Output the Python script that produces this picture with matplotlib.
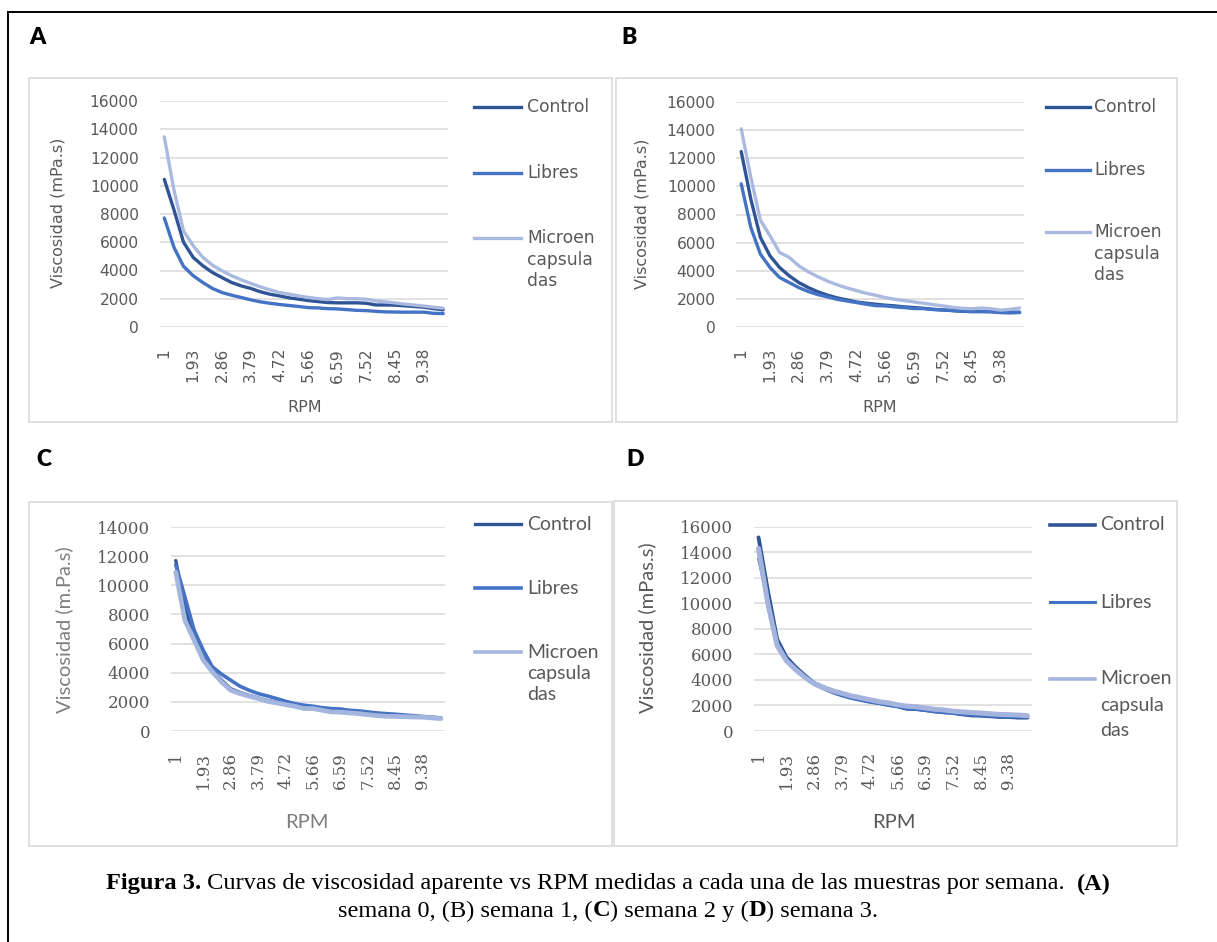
import matplotlib
matplotlib.use("Agg")
import matplotlib.pyplot as plt
from matplotlib.lines import Line2D
from matplotlib.patches import Rectangle

# ---------------- data ----------------
rpm_labels = ["1", "1.31", "1.62", "1.93", "2.24", "2.55", "2.86", "3.17", "3.48", "3.79",
              "4.1", "4.41", "4.72", "5.03", "5.34", "5.66", "5.97", "6.28", "6.59", "6.9",
              "7.21", "7.52", "7.83", "8.14", "8.45", "8.76", "9.07", "9.38", "9.69", "10"]
series_names = ["Control", "Libres", "Microen\ncapsula\ndas"]

A_control = [10450, 8300, 6000, 4930, 4340, 3860, 3500, 3150, 2910, 2730, 2490, 2320, 2200, 2060, 1970,
             1870, 1800, 1730, 1710, 1710, 1710, 1680, 1560, 1560, 1550, 1500, 1450, 1400, 1300, 1220]
A_libres = [7720, 5640, 4290, 3630, 3150, 2730, 2440, 2250, 2090, 1920, 1780, 1680, 1590, 1520, 1450,
            1370, 1350, 1300, 1280, 1230, 1180, 1160, 1110, 1070, 1060, 1050, 1050, 1050, 970, 950]
A_micro = [13460, 9700, 6800, 5760, 4930, 4380, 3980, 3630, 3340, 3080, 2840, 2630, 2440, 2320, 2200,
           2090, 2010, 1940, 2060, 2000, 2000, 1970, 1850, 1780, 1700, 1620, 1550, 1480, 1400, 1330]

B_control = [12480, 9100, 6370, 5060, 4230, 3640, 3160, 2800, 2500, 2260, 2070, 1930, 1780, 1690, 1620,
             1550, 1500, 1430, 1380, 1330, 1260, 1210, 1170, 1120, 1100, 1100, 1100, 1050, 1050, 1050]
B_libres = [10180, 7080, 5180, 4230, 3520, 3160, 2800, 2520, 2300, 2140, 1970, 1850, 1740, 1620, 1520,
            1500, 1430, 1380, 1310, 1310, 1240, 1210, 1170, 1120, 1100, 1100, 1080, 1020, 1000, 1030]
B_micro = [14100, 10650, 7600, 6490, 5300, 4950, 4350, 3920, 3570, 3260, 3000, 2780, 2590, 2400, 2260,
           2090, 1970, 1880, 1780, 1690, 1590, 1500, 1400, 1330, 1300, 1350, 1300, 1200, 1250, 1350]

C_control = [11700, 8400, 6500, 5100, 4150, 3500, 2900, 2650, 2450, 2280, 2100, 1980, 1860, 1750, 1620,
             1580, 1470, 1370, 1340, 1290, 1240, 1170, 1110, 1060, 1040, 1010, 990, 960, 910, 870]
C_libres = [11400, 9200, 6930, 5550, 4400, 3900, 3490, 3080, 2800, 2570, 2410, 2230, 2040, 1880, 1770,
            1700, 1600, 1540, 1510, 1420, 1380, 1310, 1240, 1190, 1150, 1100, 1050, 1000, 950, 900]
C_micro = [10900, 7600, 6240, 4870, 4060, 3370, 2800, 2570, 2390, 2230, 2040, 1930, 1810, 1700, 1540,
           1540, 1420, 1310, 1290, 1240, 1190, 1120, 1060, 1010, 1000, 980, 960, 950, 900, 850]

D_control = [15160, 11000, 7200, 5780, 5000, 4350, 3750, 3440, 3130, 2860, 2660, 2470, 2320, 2190, 2060,
             1930, 1740, 1720, 1640, 1540, 1460, 1410, 1300, 1220, 1200, 1150, 1100, 1100, 1050, 1050]
D_libres = [13500, 10300, 7000, 5600, 4900, 4250, 3650, 3300, 3000, 2750, 2550, 2400, 2250, 2150, 2000,
            1900, 1750, 1700, 1600, 1500, 1450, 1400, 1300, 1250, 1200, 1150, 1150, 1100, 1100, 1100]
D_micro = [14300, 10000, 6700, 5500, 4800, 4200, 3700, 3400, 3150, 2950, 2750, 2600, 2450, 2300, 2200,
           2050, 1950, 1900, 1800, 1700, 1650, 1550, 1500, 1450, 1400, 1350, 1300, 1280, 1250, 1200]

# ---------------- figure ----------------
W, H = 1217, 942
fig = plt.figure(figsize=(W / 100, H / 100), dpi=100)
fig.patch.set_facecolor("white")


def fx(x):
    return x / W


def fy(y):
    return 1 - y / H


# outer frame (left and top edges visible)
fig.add_artist(Line2D([fx(8), fx(8)], [fy(12), fy(942)], color="black", lw=1.4))
fig.add_artist(Line2D([fx(8), fx(1217)], [fy(12), fy(12)], color="black", lw=1.4))

TEXT = "#595959"
panels = [
    dict(letter="A", lpos=(37, 38), box=(29, 78, 612, 422), plot=(159.5, 101, 448, 327),
         data=[A_control, A_libres, A_micro], colors=["#2F5496", "#4472C4", "#A9B9E0"],
         lws=[2.4, 2.4, 2.4], ymax=16000, ylabel="Viscosidad (mPa.s)",
         ylab_xy=(58, 213), xlab_xy=(305, 408), tickfont=dict(family="DejaVu Sans", size=11.2),
         labfont=dict(family="DejaVu Sans", size=11.5), labcolor=TEXT,
         legfont=dict(family="DejaVu Sans", size=12.3), leg_x=(474, 521, 527),
         leg_y=[[107], [173], [238, 260, 281]]),
    dict(letter="B", lpos=(629, 38), box=(616, 78, 1177, 422), plot=(736.4, 102, 1024.4, 327),
         data=[B_control, B_libres, B_micro], colors=["#2F5496", "#4472C4", "#A9B9E0"],
         lws=[2.4, 2.4, 2.4], ymax=16000, ylabel="Viscosidad (mPa.s)",
         ylab_xy=(642, 214), xlab_xy=(880, 408), tickfont=dict(family="DejaVu Sans", size=11.2),
         labfont=dict(family="DejaVu Sans", size=11.5), labcolor=TEXT,
         legfont=dict(family="DejaVu Sans", size=12.3), leg_x=(1046, 1090, 1094),
         leg_y=[[107], [170], [232, 254, 275]]),
    dict(letter="C", lpos=(44, 460), box=(29, 502, 612, 846), plot=(171.2, 527, 445.5, 731),
         data=[C_control, C_libres, C_micro], colors=["#2F5597", "#4472C4", "#A5B6DE"],
         lws=[2.4, 2.6, 3.4], ymax=14000, ylabel="Viscosidad (m.Pa.s)",
         ylab_xy=(64, 630), xlab_xy=(307, 823), tickfont=dict(family="DejaVu Serif", size=12),
         labfont=dict(family="Lato", size=14.5), labcolor="#7F7F7F",
         legfont=dict(family="Lato", size=14), leg_x=(475, 521, 527),
         leg_y=[[524], [588], [652, 673, 694]]),
    dict(letter="D", lpos=(635, 460), box=(614, 501, 1177, 846), plot=(753.9, 526.7, 1032.1, 731),
         data=[D_control, D_libres, D_micro], colors=["#2F5597", "#4472C4", "#A4B4DD"],
         lws=[2.8, 2.2, 3.6], ymax=16000, ylabel="Viscosidad (mPas.s)",
         ylab_xy=(647, 628), xlab_xy=(894, 823), tickfont=dict(family="DejaVu Serif", size=12),
         labfont=dict(family="Lato", size=14.5), labcolor=TEXT,
         legfont=dict(family="Lato", size=14), leg_x=(1050, 1095, 1100),
         leg_y=[[525], [602], [679, 706, 731]]),
]

for p in panels:
    # panel border
    l, t, r, b = p["box"]
    fig.add_artist(Rectangle((fx(l), fy(b)), (r - l) / W, (b - t) / H, transform=fig.transFigure,
                             fill=False, edgecolor="#D9D9D9", lw=1.2))
    # panel letter
    fig.text(fx(p["lpos"][0]), fy(p["lpos"][1]), p["letter"], family="Lato", weight="heavy",
             size=16.5, ha="center", va="center", color="black")

    pl, pt, pr, pb = p["plot"]
    ax = fig.add_axes([fx(pl), fy(pb), (pr - pl) / W, (pb - pt) / H])
    xs = list(range(len(rpm_labels)))
    for vals, c, lw, name in zip(p["data"], p["colors"], p["lws"], series_names):
        ax.plot(xs, vals, color=c, lw=lw, solid_capstyle="round", solid_joinstyle="round", label=name)
    ax.set_xlim(-0.5, len(rpm_labels) - 0.5)
    ax.set_ylim(0, p["ymax"])
    ax.set_yticks(list(range(0, p["ymax"] + 1, 2000)))
    ax.set_xticks(xs[::3])
    ax.set_xticklabels(rpm_labels[::3], rotation=90)
    for s in ax.spines.values():
        s.set_visible(False)
    ax.grid(axis="y", color="#D9D9D9", lw=1.1)
    ax.set_axisbelow(True)
    ax.tick_params(length=0, pad=15, colors=TEXT)
    for lab in ax.get_xticklabels() + ax.get_yticklabels():
        lab.set_fontfamily(p["tickfont"]["family"])
        lab.set_fontsize(p["tickfont"]["size"])
        lab.set_color(TEXT)
    ax.set_facecolor("none")

    ax.set_ylabel(p["ylabel"], fontfamily=p["labfont"]["family"], fontsize=p["labfont"]["size"],
                  color=p["labcolor"])
    ax.set_xlabel("RPM", fontfamily=p["labfont"]["family"], fontsize=p["labfont"]["size"],
                  color=p["labcolor"])
    ax.yaxis.set_label_coords((p["ylab_xy"][0] - pl) / (pr - pl), (pb - p["ylab_xy"][1]) / (pb - pt))
    ax.xaxis.set_label_coords((p["xlab_xy"][0] - pl) / (pr - pl), (pb - p["xlab_xy"][1]) / (pb - pt))
    ax.yaxis.label.set_va("center")
    ax.xaxis.label.set_va("center")

    # legend (manual placement)
    x0, x1, xt = p["leg_x"]
    for c, lw, name, ys in zip(p["colors"], p["lws"], series_names, p["leg_y"]):
        fig.add_artist(Line2D([fx(x0), fx(x1)], [fy(ys[0]), fy(ys[0])], color=c, lw=min(lw, 2.6)))
        for txt, yy in zip(name.split("\n"), ys):
            fig.text(fx(xt), fy(yy), txt, family=p["legfont"]["family"], size=p["legfont"]["size"],
                     color=TEXT, ha="left", va="center")

# ---------------- caption ----------------
cap_lines = [
    [("Figura 3.", "bold"),
     (" Curvas de viscosidad aparente vs RPM medidas a cada una de las muestras por semana.  ", "normal"),
     ("(A)", "bold")],
    [("semana 0, (B) semana 1, (", "normal"), ("C", "bold"), (") semana 2 y (", "normal"),
     ("D", "bold"), (") semana 3.", "normal")],
]
cap_y = [884, 911]
renderer = fig.canvas.get_renderer()
for segs, yy in zip(cap_lines, cap_y):
    texts = []
    widths = []
    for s, w in segs:
        tt = fig.text(0, fy(yy), s, family="Liberation Serif", weight=w, size=17.6,
                      ha="left", va="center", color="black")
        bb = tt.get_window_extent(renderer=renderer)
        texts.append(tt)
        widths.append(bb.width)
    total = sum(widths)
    x = 608 - total / 2
    for tt, wdt in zip(texts, widths):
        tt.set_x(fx(x))
        x += wdt

fig.savefig("out.png", dpi=100, facecolor="white")
